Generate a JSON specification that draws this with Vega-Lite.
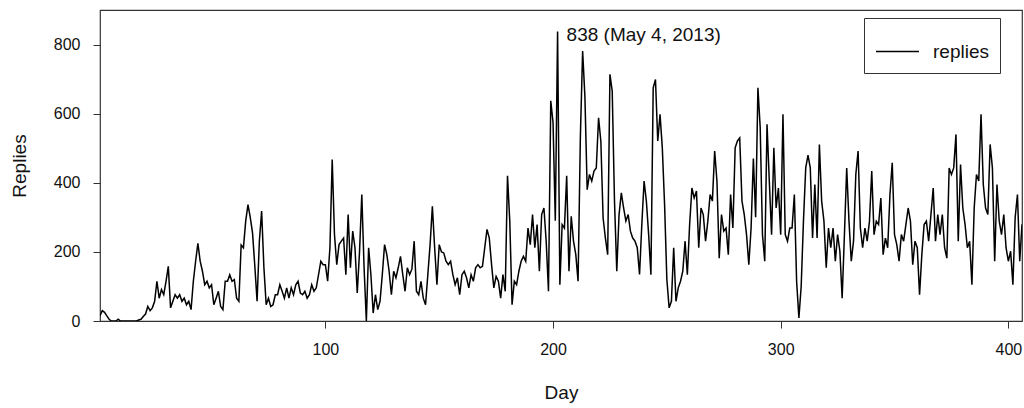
{
"$schema": "https://vega.github.io/schema/vega-lite/v6.json",
"width": 922, "height": 311,
"autosize": {"type": "none"},
"padding": {"left": 100, "top": 10, "right": 2, "bottom": 87},
"config": {
  "view": {"stroke": "#333", "strokeWidth": 1.2},
  "font": "Liberation Sans",
  "axis": {"domain": false, "grid": false, "tickColor": "#333", "tickSize": 7, "labelColor": "#111", "labelFontSize": 16, "titleFontSize": 19, "titleFontWeight": "normal", "titleColor": "#111", "labelFont": "Liberation Sans", "titleFont": "Liberation Sans"},
  "legend": {"labelFont": "Liberation Sans"}
},
"data": {"values": [
{"day":1,"replies":15},{"day":2,"replies":30},{"day":3,"replies":25},{"day":4,"replies":15},{"day":5,"replies":5},{"day":6,"replies":0},{"day":7,"replies":0},{"day":8,"replies":0},{"day":9,"replies":5},{"day":10,"replies":0},
{"day":11,"replies":0},{"day":12,"replies":0},{"day":13,"replies":0},{"day":14,"replies":0},{"day":15,"replies":0},{"day":16,"replies":0},{"day":17,"replies":0},{"day":18,"replies":3},{"day":19,"replies":5},{"day":20,"replies":13},
{"day":21,"replies":20},{"day":22,"replies":42},{"day":23,"replies":30},{"day":24,"replies":38},{"day":25,"replies":57},{"day":26,"replies":115},{"day":27,"replies":66},{"day":28,"replies":91},{"day":29,"replies":76},{"day":30,"replies":115},
{"day":31,"replies":158},{"day":32,"replies":38},{"day":33,"replies":57},{"day":34,"replies":76},{"day":35,"replies":66},{"day":36,"replies":76},{"day":37,"replies":57},{"day":38,"replies":66},{"day":39,"replies":47},{"day":40,"replies":57},
{"day":41,"replies":33},{"day":42,"replies":115},{"day":43,"replies":173},{"day":44,"replies":225},{"day":45,"replies":173},{"day":46,"replies":144},{"day":47,"replies":105},{"day":48,"replies":115},{"day":49,"replies":96},{"day":50,"replies":105},
{"day":51,"replies":47},{"day":52,"replies":66},{"day":53,"replies":86},{"day":54,"replies":42},{"day":55,"replies":33},{"day":56,"replies":115},{"day":57,"replies":115},{"day":58,"replies":134},{"day":59,"replies":115},{"day":60,"replies":120},
{"day":61,"replies":66},{"day":62,"replies":57},{"day":63,"replies":220},{"day":64,"replies":212},{"day":65,"replies":289},{"day":66,"replies":337},{"day":67,"replies":300},{"day":68,"replies":255},{"day":69,"replies":160},{"day":70,"replies":57},
{"day":71,"replies":231},{"day":72,"replies":318},{"day":73,"replies":154},{"day":74,"replies":47},{"day":75,"replies":66},{"day":76,"replies":42},{"day":77,"replies":47},{"day":78,"replies":76},{"day":79,"replies":76},{"day":80,"replies":105},
{"day":81,"replies":86},{"day":82,"replies":66},{"day":83,"replies":96},{"day":84,"replies":66},{"day":85,"replies":96},{"day":86,"replies":76},{"day":87,"replies":105},{"day":88,"replies":115},{"day":89,"replies":81},{"day":90,"replies":76},
{"day":91,"replies":86},{"day":92,"replies":66},{"day":93,"replies":76},{"day":94,"replies":105},{"day":95,"replies":86},{"day":96,"replies":96},{"day":97,"replies":134},{"day":98,"replies":173},{"day":99,"replies":163},{"day":100,"replies":163},
{"day":101,"replies":115},{"day":102,"replies":212},{"day":103,"replies":467},{"day":104,"replies":250},{"day":105,"replies":163},{"day":106,"replies":221},{"day":107,"replies":231},{"day":108,"replies":240},{"day":109,"replies":134},{"day":110,"replies":308},
{"day":111,"replies":154},{"day":112,"replies":260},{"day":113,"replies":212},{"day":114,"replies":81},{"day":115,"replies":200},{"day":116,"replies":366},{"day":117,"replies":154},{"day":118,"replies":0},{"day":119,"replies":212},{"day":120,"replies":134},
{"day":121,"replies":23},{"day":122,"replies":76},{"day":123,"replies":33},{"day":124,"replies":57},{"day":125,"replies":134},{"day":126,"replies":221},{"day":127,"replies":192},{"day":128,"replies":144},{"day":129,"replies":76},{"day":130,"replies":144},
{"day":131,"replies":125},{"day":132,"replies":154},{"day":133,"replies":187},{"day":134,"replies":134},{"day":135,"replies":86},{"day":136,"replies":154},{"day":137,"replies":134},{"day":138,"replies":150},{"day":139,"replies":231},{"day":140,"replies":86},
{"day":141,"replies":76},{"day":142,"replies":115},{"day":143,"replies":66},{"day":144,"replies":47},{"day":145,"replies":134},{"day":146,"replies":221},{"day":147,"replies":332},{"day":148,"replies":212},{"day":149,"replies":105},{"day":150,"replies":221},
{"day":151,"replies":200},{"day":152,"replies":197},{"day":153,"replies":173},{"day":154,"replies":163},{"day":155,"replies":173},{"day":156,"replies":134},{"day":157,"replies":105},{"day":158,"replies":125},{"day":159,"replies":76},{"day":160,"replies":134},
{"day":161,"replies":144},{"day":162,"replies":125},{"day":163,"replies":96},{"day":164,"replies":134},{"day":165,"replies":115},{"day":166,"replies":154},{"day":167,"replies":163},{"day":168,"replies":154},{"day":169,"replies":158},{"day":170,"replies":212},
{"day":171,"replies":265},{"day":172,"replies":240},{"day":173,"replies":163},{"day":174,"replies":96},{"day":175,"replies":129},{"day":176,"replies":115},{"day":177,"replies":66},{"day":178,"replies":134},{"day":179,"replies":86},{"day":180,"replies":420},
{"day":181,"replies":289},{"day":182,"replies":47},{"day":183,"replies":115},{"day":184,"replies":105},{"day":185,"replies":144},{"day":186,"replies":173},{"day":187,"replies":187},{"day":188,"replies":173},{"day":189,"replies":269},{"day":190,"replies":221},
{"day":191,"replies":308},{"day":192,"replies":212},{"day":193,"replies":279},{"day":194,"replies":144},{"day":195,"replies":308},{"day":196,"replies":327},{"day":197,"replies":230},{"day":198,"replies":86},{"day":199,"replies":637},{"day":200,"replies":575},
{"day":201,"replies":290},{"day":202,"replies":838},{"day":203,"replies":105},{"day":204,"replies":279},{"day":205,"replies":269},{"day":206,"replies":420},{"day":207,"replies":144},{"day":208,"replies":303},{"day":209,"replies":231},{"day":210,"replies":192},
{"day":211,"replies":115},{"day":212,"replies":530},{"day":213,"replies":781},{"day":214,"replies":650},{"day":215,"replies":380},{"day":216,"replies":424},{"day":217,"replies":405},{"day":218,"replies":434},{"day":219,"replies":443},{"day":220,"replies":588},
{"day":221,"replies":521},{"day":222,"replies":298},{"day":223,"replies":240},{"day":224,"replies":192},{"day":225,"replies":714},{"day":226,"replies":665},{"day":227,"replies":347},{"day":228,"replies":144},{"day":229,"replies":308},{"day":230,"replies":371},
{"day":231,"replies":327},{"day":232,"replies":289},{"day":233,"replies":308},{"day":234,"replies":260},{"day":235,"replies":240},{"day":236,"replies":231},{"day":237,"replies":212},{"day":238,"replies":135},{"day":239,"replies":279},{"day":240,"replies":405},
{"day":241,"replies":347},{"day":242,"replies":250},{"day":243,"replies":134},{"day":244,"replies":675},{"day":245,"replies":699},{"day":246,"replies":521},{"day":247,"replies":598},{"day":248,"replies":501},{"day":249,"replies":337},{"day":250,"replies":120},
{"day":251,"replies":38},{"day":252,"replies":57},{"day":253,"replies":212},{"day":254,"replies":57},{"day":255,"replies":96},{"day":256,"replies":115},{"day":257,"replies":144},{"day":258,"replies":231},{"day":259,"replies":134},{"day":260,"replies":279},
{"day":261,"replies":385},{"day":262,"replies":356},{"day":263,"replies":376},{"day":264,"replies":212},{"day":265,"replies":327},{"day":266,"replies":308},{"day":267,"replies":231},{"day":268,"replies":289},{"day":269,"replies":366},{"day":270,"replies":347},
{"day":271,"replies":492},{"day":272,"replies":405},{"day":273,"replies":182},{"day":274,"replies":308},{"day":275,"replies":260},{"day":276,"replies":269},{"day":277,"replies":192},{"day":278,"replies":366},{"day":279,"replies":269},{"day":280,"replies":501},
{"day":281,"replies":521},{"day":282,"replies":530},{"day":283,"replies":347},{"day":284,"replies":308},{"day":285,"replies":250},{"day":286,"replies":163},{"day":287,"replies":269},{"day":288,"replies":470},{"day":289,"replies":300},{"day":290,"replies":675},
{"day":291,"replies":560},{"day":292,"replies":250},{"day":293,"replies":173},{"day":294,"replies":569},{"day":295,"replies":405},{"day":296,"replies":250},{"day":297,"replies":501},{"day":298,"replies":327},{"day":299,"replies":385},{"day":300,"replies":250},
{"day":301,"replies":598},{"day":302,"replies":250},{"day":303,"replies":231},{"day":304,"replies":269},{"day":305,"replies":269},{"day":306,"replies":366},{"day":307,"replies":115},{"day":308,"replies":9},{"day":309,"replies":100},{"day":310,"replies":289},
{"day":311,"replies":443},{"day":312,"replies":480},{"day":313,"replies":443},{"day":314,"replies":240},{"day":315,"replies":395},{"day":316,"replies":240},{"day":317,"replies":511},{"day":318,"replies":347},{"day":319,"replies":289},{"day":320,"replies":154},
{"day":321,"replies":269},{"day":322,"replies":212},{"day":323,"replies":269},{"day":324,"replies":173},{"day":325,"replies":250},{"day":326,"replies":202},{"day":327,"replies":66},{"day":328,"replies":250},{"day":329,"replies":443},{"day":330,"replies":289},
{"day":331,"replies":173},{"day":332,"replies":231},{"day":333,"replies":424},{"day":334,"replies":492},{"day":335,"replies":269},{"day":336,"replies":212},{"day":337,"replies":269},{"day":338,"replies":231},{"day":339,"replies":289},{"day":340,"replies":434},
{"day":341,"replies":250},{"day":342,"replies":289},{"day":343,"replies":279},{"day":344,"replies":356},{"day":345,"replies":192},{"day":346,"replies":240},{"day":347,"replies":212},{"day":348,"replies":366},{"day":349,"replies":458},{"day":350,"replies":250},
{"day":351,"replies":221},{"day":352,"replies":173},{"day":353,"replies":250},{"day":354,"replies":231},{"day":355,"replies":279},{"day":356,"replies":327},{"day":357,"replies":289},{"day":358,"replies":163},{"day":359,"replies":231},{"day":360,"replies":212},
{"day":361,"replies":76},{"day":362,"replies":192},{"day":363,"replies":279},{"day":364,"replies":289},{"day":365,"replies":231},{"day":366,"replies":308},{"day":367,"replies":385},{"day":368,"replies":231},{"day":369,"replies":308},{"day":370,"replies":250},
{"day":371,"replies":308},{"day":372,"replies":212},{"day":373,"replies":182},{"day":374,"replies":443},{"day":375,"replies":424},{"day":376,"replies":443},{"day":377,"replies":540},{"day":378,"replies":231},{"day":379,"replies":453},{"day":380,"replies":327},
{"day":381,"replies":279},{"day":382,"replies":212},{"day":383,"replies":231},{"day":384,"replies":105},{"day":385,"replies":327},{"day":386,"replies":424},{"day":387,"replies":405},{"day":388,"replies":598},{"day":389,"replies":395},{"day":390,"replies":327},
{"day":391,"replies":308},{"day":392,"replies":511},{"day":393,"replies":443},{"day":394,"replies":173},{"day":395,"replies":395},{"day":396,"replies":289},{"day":397,"replies":250},{"day":398,"replies":308},{"day":399,"replies":212},{"day":400,"replies":173},
{"day":401,"replies":202},{"day":402,"replies":105},{"day":403,"replies":300},{"day":404,"replies":366},{"day":405,"replies":173},{"day":406,"replies":280}
]},
"layer": [
  {
    "mark": {"type": "line", "color": "#000", "strokeWidth": 1.5, "clip": true},
    "encoding": {
      "x": {"field": "day", "type": "quantitative", "scale": {"domain": [1, 406], "nice": false, "zero": false},
            "axis": {"values": [100, 200, 300, 400], "title": "Day", "labelPadding": 13, "titlePadding": 26}},
      "y": {"field": "replies", "type": "quantitative", "scale": {"domain": [0, 900], "nice": false},
            "axis": {"values": [0, 200, 400, 600, 800], "title": "Replies", "labelPadding": 13, "titlePadding": 24}},
      "color": {"datum": "replies", "type": "nominal", "scale": {"range": ["#000"]},
                "legend": {"title": null, "orient": "none", "legendX": 764, "legendY": 8, "strokeColor": "#333", "padding": 11,
                           "symbolType": "stroke", "symbolSize": 1849, "symbolStrokeWidth": 1.3, "labelFontSize": 19, "labelOffset": 13, "labelColor": "#111"}}
    }
  },
  {
    "data": {"values": [{"day": 202, "replies": 838, "label": "838 (May 4, 2013)"}]},
    "mark": {"type": "text", "align": "left", "baseline": "middle", "dx": 9, "dy": 4, "fontSize": 19, "color": "#111"},
    "encoding": {
      "x": {"field": "day", "type": "quantitative"},
      "y": {"field": "replies", "type": "quantitative"},
      "text": {"field": "label"}
    }
  }
]
}
